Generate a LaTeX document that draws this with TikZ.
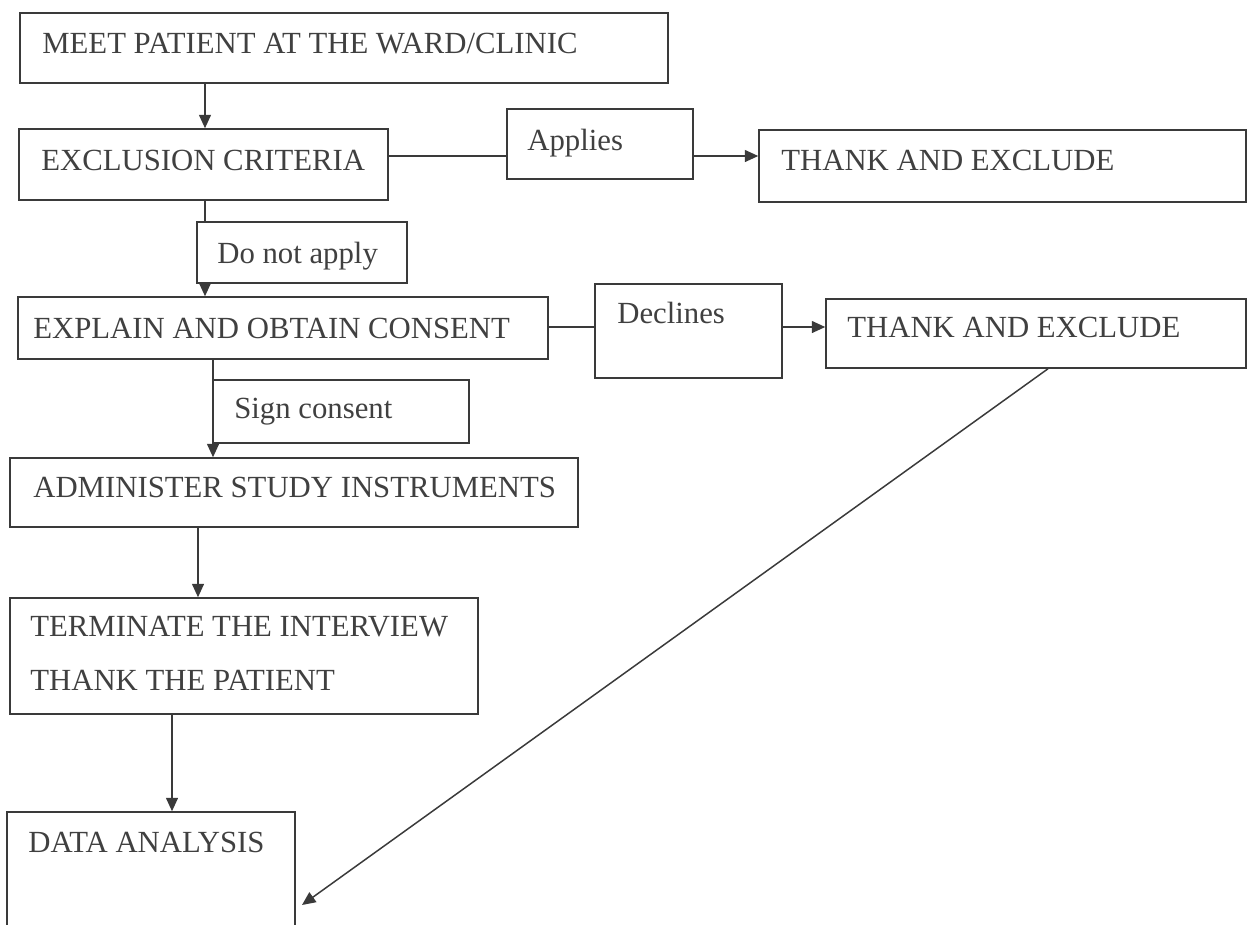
\documentclass[tikz,border=0pt]{standalone}
\usepackage{fontspec}
\setmainfont{Liberation Serif}
\usetikzlibrary{fit,arrows.meta}
\definecolor{inkc}{HTML}{3A3A3A}
\definecolor{txtc}{HTML}{404040}
\tikzset{
  box/.style={draw=inkc, line width=0.85pt, inner sep=0pt, fill=none},
  txt/.style={anchor=base west, inner sep=0pt, text=txtc, font=\fontsize{17.5}{21}\selectfont},
  ln/.style={draw=inkc, line width=0.85pt},
  arr/.style={ln, -{Triangle[length=0.27cm,width=0.24cm]}}
}
\begin{document}
\begin{tikzpicture}[x=0.02cm,y=-0.02cm]
\useasboundingbox (0,0) rectangle (1248,924);
% boxes
\node[box, fit={(20,13)(668,83)}] (meet) {};
\node[txt] (meett) at (42,53) {MEET PATIENT AT THE WARD/CLINIC};
\node[box, fit={(19,129)(388,200)}] (excl) {};
\node[txt] (exclt) at (41,170) {EXCLUSION CRITERIA};
\node[box, fit={(507,109)(693,179)}] (app) {};
\node[txt] (appt) at (527,150) {Applies};
\node[box, fit={(759,130)(1246,202)}] (thanka) {};
\node[txt] (thankat) at (781,170) {THANK AND EXCLUDE};
\node[box, fit={(197,222)(407,283)}] (dna) {};
\node[txt] (dnat) at (217,263) {Do not apply};
\node[box, fit={(18,297)(548,359)}] (expl) {};
\node[txt] (explt) at (33,338) {EXPLAIN AND OBTAIN CONSENT};
\node[box, fit={(595,284)(782,378)}] (dec) {};
\node[txt] (dect) at (617,323) {Declines};
\node[box, fit={(826,299)(1246,368)}] (thankb) {};
\node[txt] (thankbt) at (847,337) {THANK AND EXCLUDE};
\node[box, fit={(213,380)(469,443)}] (sign) {};
\node[txt] (signt) at (234,418) {Sign consent};
\node[box, fit={(10,458)(578,527)}] (admin) {};
\node[txt] (admint) at (33,497) {ADMINISTER STUDY INSTRUMENTS};
\node[box, fit={(10,598)(478,714)}] (term) {};
\node[txt] (termt) at (30,636) {TERMINATE THE INTERVIEW};
\node[txt] (termt2) at (30,690) {THANK THE PATIENT};
\node[box, fit={(7,812)(295,940)}] (data) {};
\node[txt] (datat) at (28,852) {DATA ANALYSIS};
% helper coordinates
\coordinate (c1) at (205,0);
\coordinate (c2) at (213,0);
\coordinate (c3) at (198,0);
\coordinate (c4) at (172,0);
\coordinate (r1) at (0,156);
\coordinate (r2) at (0,327);
\coordinate (d1) at (1048,0);
\coordinate (d2) at (302,905);
% connectors
\draw[arr] (meet.south -| c1) -- (excl.north -| c1);
\draw[ln] (excl.south -| c1) -- (dna.north -| c1);
\draw[arr] (dna.south -| c1) -- (expl.north -| c1);
\draw[ln] (excl.east |- r1) -- (app.west |- r1);
\draw[arr] (app.east |- r1) -- (thanka.west |- r1);
\draw[ln] (expl.east |- r2) -- (dec.west |- r2);
\draw[arr] (dec.east |- r2) -- (thankb.west |- r2);
\draw[arr] (expl.south -| c2) -- (admin.north -| c2);
\draw[arr] (admin.south -| c3) -- (term.north -| c3);
\draw[arr] (term.south -| c4) -- (data.north -| c4);
\draw[arr] (thankb.south -| d1) -- (d2);
\end{tikzpicture}
\end{document}
